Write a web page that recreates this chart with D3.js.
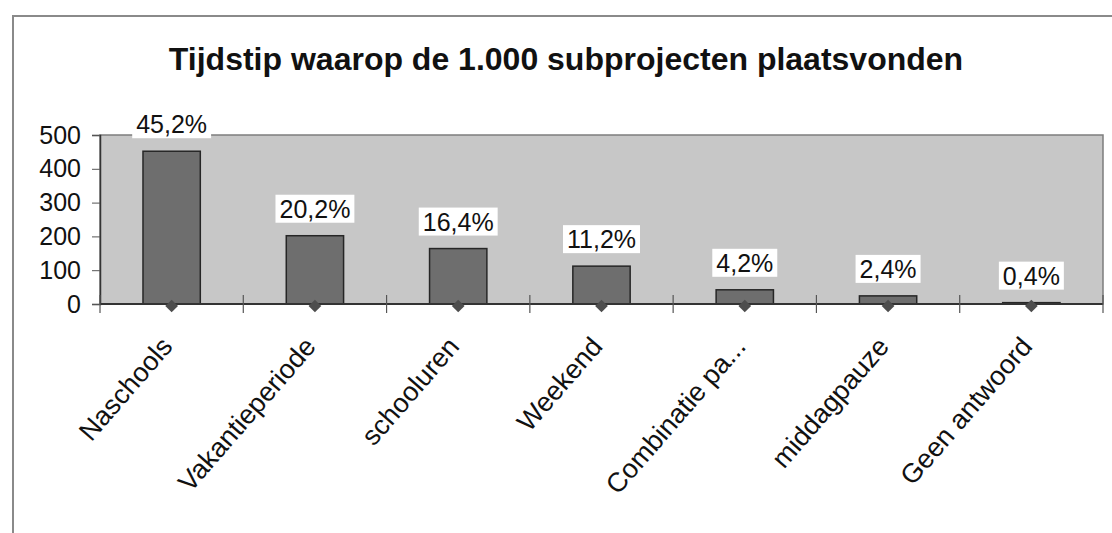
<!DOCTYPE html>
<html>
<head>
<meta charset="utf-8">
<script src="https://cdn.jsdelivr.net/npm/d3@7"></script>
<style>
  html, body { margin: 0; padding: 0; background: #fff; }
  svg { display: block; }
  text { font-family: "Liberation Sans", Arial, sans-serif; fill: #111; }
</style>
</head>
<body>
<svg id="chart" width="1112" height="533"></svg>
<script>
// Time slot of the 1,000 subprojects
const categories = ["Naschools", "Vakantieperiode", "schooluren", "Weekend", "Combinatie pa...", "middagpauze", "Geen antwoord"];
const counts = [452, 202, 164, 112, 42, 24, 4];
const percentLabels = ["45,2%", "20,2%", "16,4%", "11,2%", "4,2%", "2,4%", "0,4%"];
const markerValues = [0, 0, 0, 0, 0, 0, 0];
const yTicks = [0, 100, 200, 300, 400, 500];
const title = "Tijdstip waarop de 1.000 subprojecten plaatsvonden";

const svg = d3.select("#chart");
const plot = { left: 100, right: 1103, top: 135, bottom: 304 };

// outer chart frame
svg.append("rect")
  .attr("x", 13).attr("y", 16).attr("width", 1120).attr("height", 540)
  .attr("fill", "#fff").attr("stroke", "#8a8a8a").attr("stroke-width", 2);

svg.append("text")
  .attr("x", 566).attr("y", 70)
  .attr("text-anchor", "middle")
  .style("font-weight", "bold").style("font-size", "32px")
  .text(title);

const x = d3.scaleBand().domain(categories)
  .range([plot.left, plot.right]).paddingInner(0.6).paddingOuter(0.3);
const y = d3.scaleLinear().domain([0, 500]).range([plot.bottom, plot.top]);
const step = x.step();

// plot area
svg.append("rect")
  .attr("x", plot.left).attr("y", plot.top)
  .attr("width", plot.right - plot.left).attr("height", plot.bottom - plot.top)
  .attr("fill", "#c7c7c7").attr("stroke", "#7d7d7d").attr("stroke-width", 1.5);

// bars
svg.append("g").selectAll("rect").data(counts).join("rect")
  .attr("x", (d, i) => x(categories[i]))
  .attr("y", d => y(d))
  .attr("width", x.bandwidth())
  .attr("height", d => y(0) - y(d))
  .attr("fill", "#6e6e6e").attr("stroke", "#262626").attr("stroke-width", 1.5);

// y axis
const yAxis = svg.append("g")
  .attr("transform", `translate(${plot.left},0)`)
  .call(d3.axisLeft(y).tickValues(yTicks).tickSize(8).tickPadding(11).tickFormat(d3.format("d")));
yAxis.select(".domain").attr("stroke", "#333").attr("stroke-width", 1.5);
yAxis.selectAll(".tick line").attr("stroke", "#555");
yAxis.selectAll(".tick text").style("font-size", "25px").attr("fill", "#111")
  .style("font-family", "'Liberation Sans', Arial, sans-serif");

// x axis line with crossing tick marks between categories
svg.append("line")
  .attr("x1", plot.left).attr("x2", plot.right)
  .attr("y1", y(0)).attr("y2", y(0))
  .attr("stroke", "#333").attr("stroke-width", 2);
svg.append("g").selectAll("line").data(d3.range(categories.length + 1)).join("line")
  .attr("x1", i => plot.left + i * step).attr("x2", i => plot.left + i * step)
  .attr("y1", y(0) - 9).attr("y2", y(0) + 9)
  .attr("stroke", "#555").attr("stroke-width", 1.2);

// second series: diamond markers
svg.append("g").selectAll("path").data(markerValues).join("path")
  .attr("transform", (d, i) => `translate(${x(categories[i]) + x.bandwidth() / 2},${y(d) + 2}) rotate(45)`)
  .attr("d", d3.symbol(d3.symbolSquare, 81))
  .attr("fill", "#4d4d4d");

// value labels with white boxes
const lab = svg.append("g").selectAll("g").data(counts).join("g")
  .attr("transform", (d, i) => `translate(${x(categories[i]) + x.bandwidth() / 2},${y(d) - 27})`);
lab.append("text")
  .attr("text-anchor", "middle").attr("dy", "0.36em")
  .style("font-size", "25px")
  .text((d, i) => percentLabels[i]);
lab.each(function () {
  const g = d3.select(this);
  const bb = g.select("text").node().getBBox();
  g.insert("rect", "text")
    .attr("x", bb.x - 4).attr("y", bb.y)
    .attr("width", bb.width + 8).attr("height", bb.height)
    .attr("fill", "#fff");
});

// rotated category labels
svg.append("g").selectAll("text").data(categories).join("text")
  .attr("transform", d => `translate(${x(d) + x.bandwidth() / 2 - 12},${y(0) + 31}) rotate(-49)`)
  .attr("text-anchor", "end").attr("dy", "0.7em")
  .style("font-size", "27px")
  .text(d => d);
</script>
</body>
</html>
